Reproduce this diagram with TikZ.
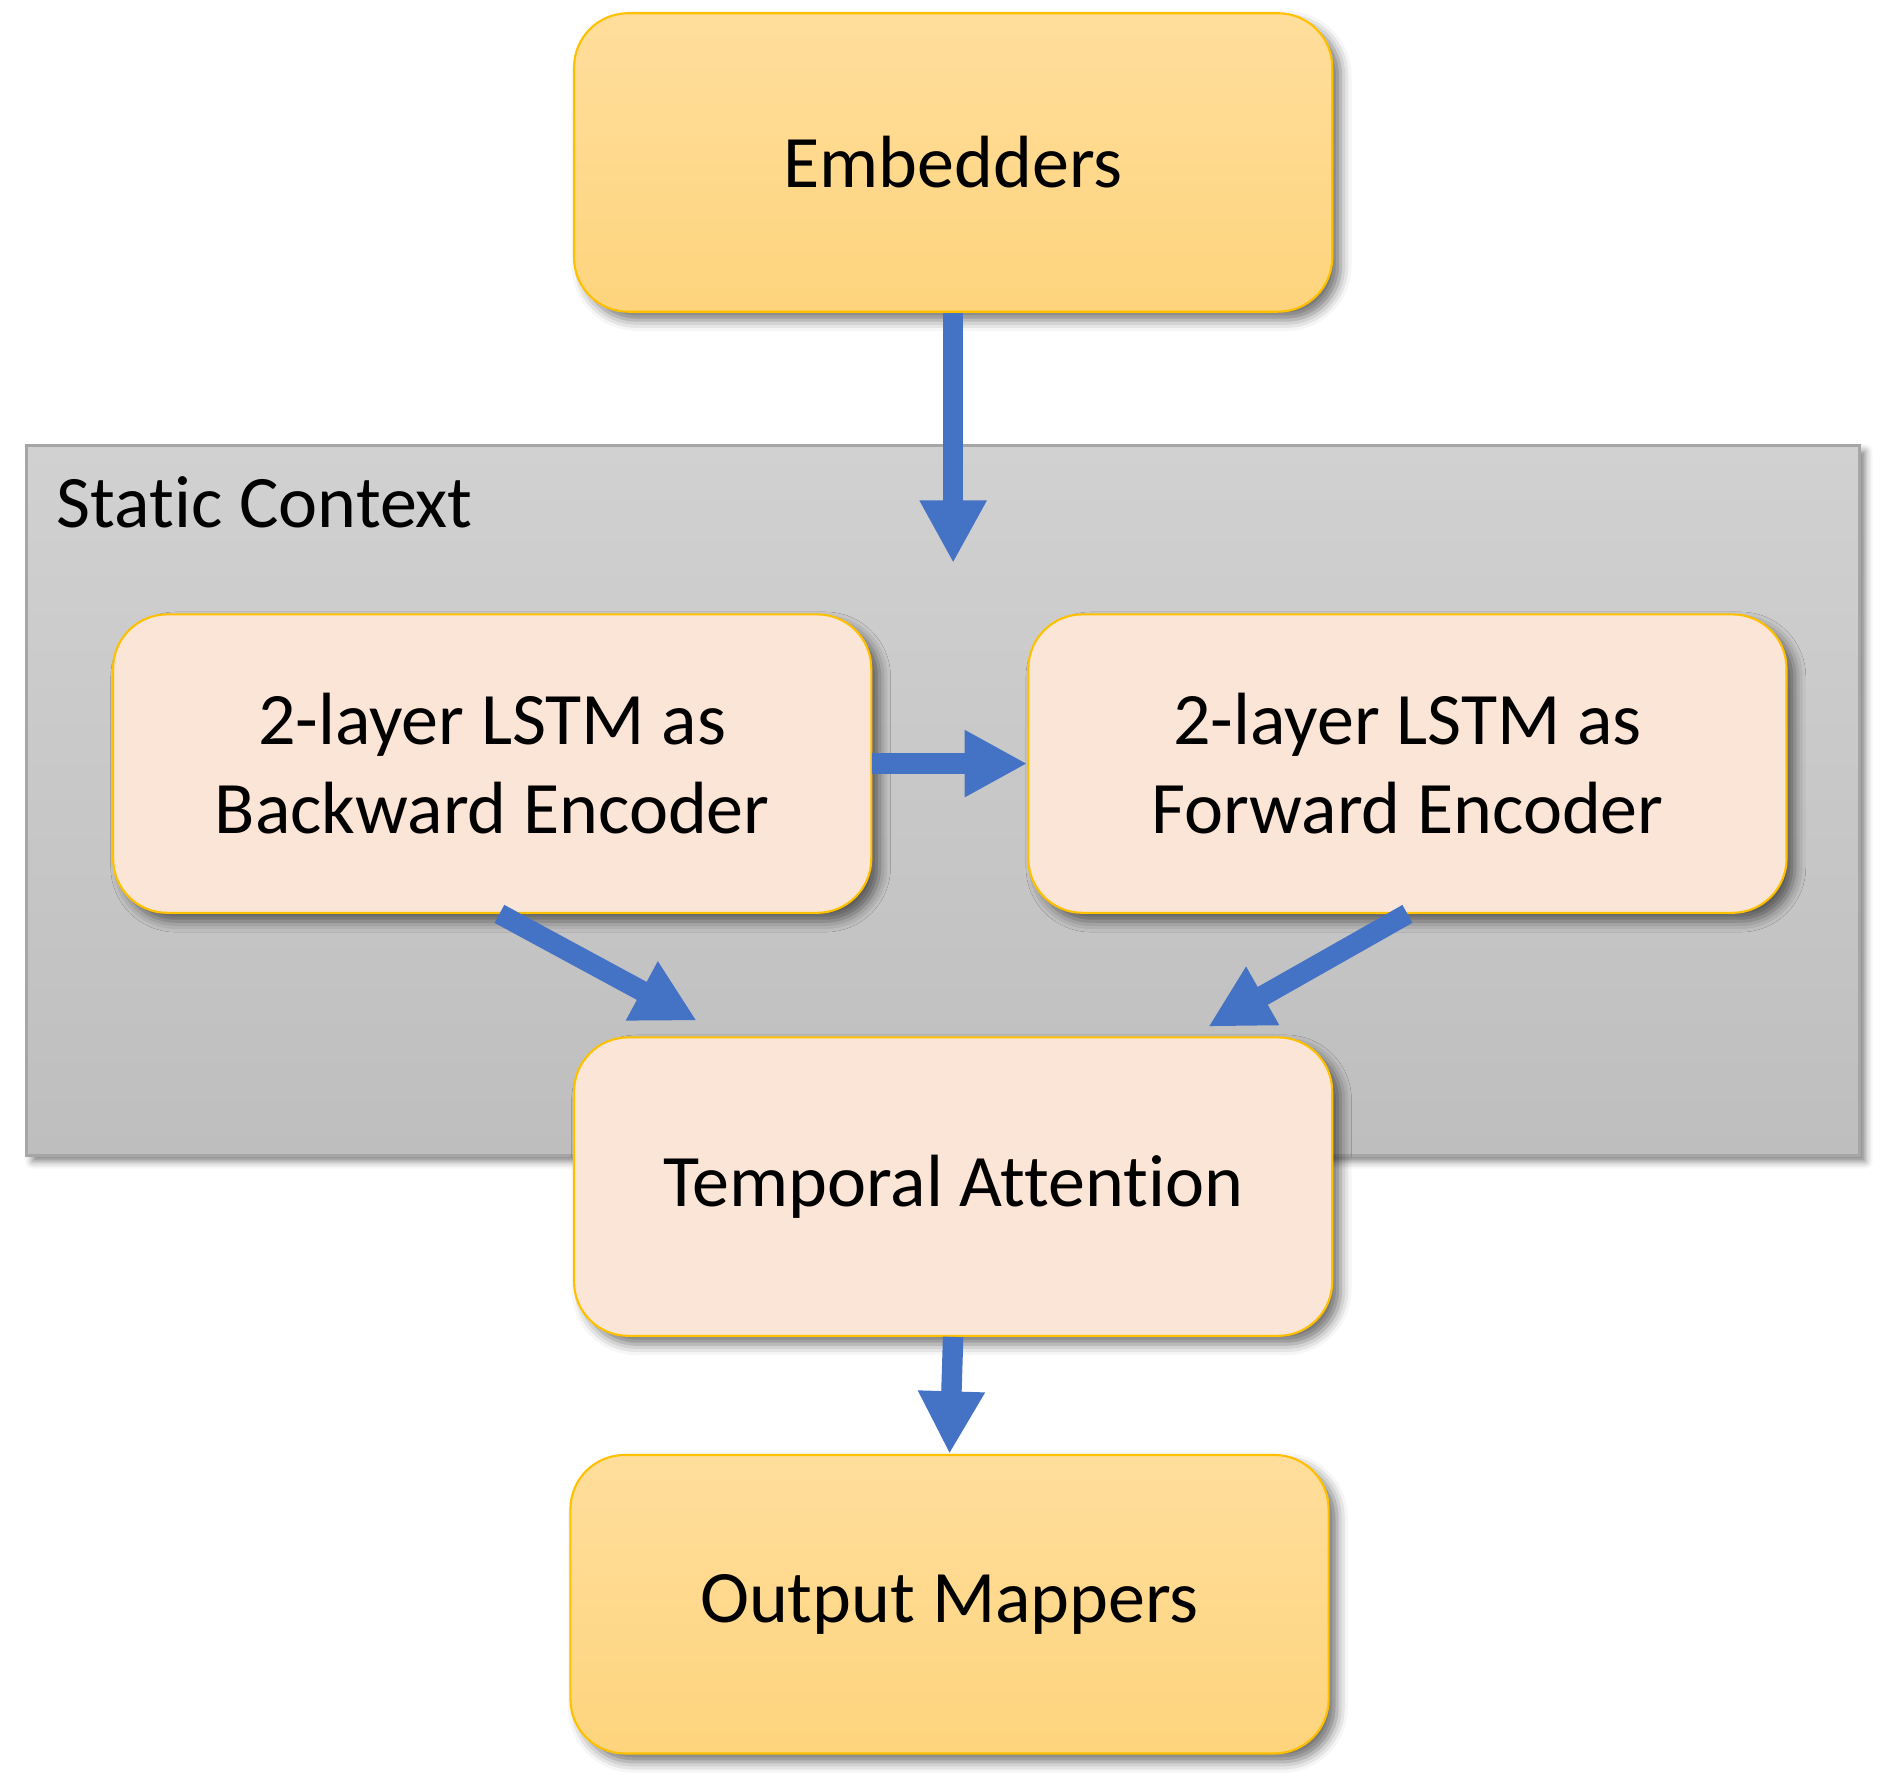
\documentclass[tikz,border=0pt]{standalone}
\usepackage{fontspec}
\setmainfont[Ligatures=NoCommon]{Carlito}
\usetikzlibrary{positioning,arrows.meta,shadows.blur}

\definecolor{goldline}{RGB}{255,192,0}
\definecolor{goldtop}{RGB}{255,222,156}
\definecolor{goldbot}{RGB}{254,212,125}
\definecolor{peach}{RGB}{251,229,214}
\definecolor{graytop}{RGB}{209,209,209}
\definecolor{graybot}{RGB}{190,190,190}
\definecolor{grayline}{RGB}{166,166,166}
\definecolor{flowblue}{RGB}{68,114,196}

\tikzstyle{io} = [rectangle, rounded corners=0.45cm, minimum width=6.3cm, minimum height=2.48cm, text centered, draw=goldline, line width=0.5pt, top color=goldtop, bottom color=goldbot, blur shadow={shadow xshift=0.07cm, shadow yshift=-0.07cm, shadow blur radius=0.09cm, shadow opacity=55}]
\tikzstyle{module} = [rectangle, rounded corners=0.45cm, minimum width=6.3cm, minimum height=2.48cm, align=center, draw=goldline, line width=0.5pt, fill=peach, blur shadow={shadow xshift=0.07cm, shadow yshift=-0.07cm, shadow blur radius=0.09cm, shadow opacity=55}]
\tikzstyle{context} = [rectangle, minimum width=15.23cm, minimum height=5.9cm, draw=grayline, line width=0.8pt, top color=graytop, bottom color=graybot, blur shadow={shadow xshift=0.05cm, shadow yshift=-0.05cm, shadow blur radius=0.06cm, shadow opacity=50}]
\tikzstyle{flow} = [-{Triangle[width=0.52cm,length=0.52cm]}, line width=0.17cm, draw=flowblue]

\begin{document}
\begin{tikzpicture}[node distance=3.47cm, font=\fontsize{17.5}{21}\selectfont]
\useasboundingbox (0,0) rectangle (15.68,-14.81);

%Input
\node (emb) [io] at (7.92,-1.35) {Embedders};

%Static context
\node (ctx) [context,below of=emb,xshift=-0.085cm,yshift=-1.83cm] {};
\node (ctxlabel) [anchor=base west,inner sep=0,xshift=0.26cm,yshift=-0.70cm] at (ctx.north west) {Static Context};

%Encoders
\node (bwd) [module,below of=emb,xshift=-3.83cm,yshift=-1.525cm] {2-layer LSTM as\\Backward Encoder};
\node (fwd) [module,right of=bwd,xshift=4.135cm] {2-layer LSTM as\\Forward Encoder};

%Attention and output
\node (att) [module,below of=emb,yshift=-5.04cm] {Temporal Attention};
\node (out) [io,below of=att,xshift=-0.03cm] {Output Mappers};

\coordinate (embin) at ([yshift=-2.08cm]emb.south);

%Arrows
\draw [flow] (emb.south) -- (embin);
\draw [flow] (bwd.east) -- (fwd.west);
\draw [flow] ([xshift=0.06cm]bwd.south) -- ([xshift=-2.13cm,yshift=0.13cm]att.north);
\draw [flow] (fwd.south) -- ([xshift=2.12cm,yshift=0.08cm]att.north);
\draw [flow] (att.south) -- (out.north);

\end{tikzpicture}
\end{document}
